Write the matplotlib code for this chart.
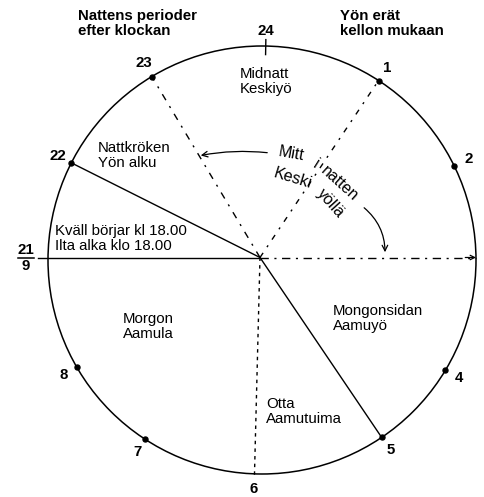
import numpy as np
import matplotlib
matplotlib.use("Agg")
import matplotlib.pyplot as plt
from matplotlib.patches import Circle, FancyArrowPatch

plt.rcParams['font.family'] = ['Liberation Sans', 'DejaVu Sans']

# ---- data -------------------------------------------------------------
hour_labels = ["24", "1", "2", "3", "4", "5", "6", "7", "8", "21/9", "22", "23"]
hour_angles = [1, 33, 64, 90, 121, 146, 182, 213, 240, 270, 297, 329]   # degrees clockwise from top
dot_hours = ["1", "2", "4", "5", "7", "8", "22", "23"]

# radial lines from the hub: (hour, kind)
radial_lines = [("22", "solid"), ("5", "solid"), ("21/9", "solid"),
                ("23", "dashdot"), ("1", "dashed_dot"), ("3", "dash_arrow"),
                ("6", "dashed")]

title_left = "Nattens perioder\nefter klockan"
title_right = "Yön erät\nkellon mukaan"
period_texts = ["Midnatt\nKeskiyö", "Nattkröken\nYön alku",
                "Kväll börjar kl 18.00\nIlta alka klo 18.00",
                "Morgon\nAamula", "Mongonsidan\nAamuyö", "Otta\nAamutuima"]
curved_words = ["Mitt", "i", "natten", "Keski", "yöllä"]

# ---- layout -----------------------------------------------------------
W, H = 485, 497
CX, CY, R = 262, 260, 214
HX, HY = 260, 257.5
FS = 10.8

fig = plt.figure(figsize=(W / 100, H / 100), dpi=100)
ax = fig.add_axes([0, 0, 1, 1])
ax.set_xlim(0, W)
ax.set_ylim(H, 0)
ax.set_aspect('equal')
ax.axis('off')

ang = dict(zip(hour_labels, hour_angles))


def pt(a, r=1.0):
    t = np.deg2rad(a)
    return CX + R * r * np.sin(t), CY - R * r * np.cos(t)


def ray_end(a, r=1.0):
    """point where a ray from the hub at angle a meets a circle of radius r*R"""
    t = np.deg2rad(a)
    dx, dy = np.sin(t), -np.cos(t)
    ox, oy = HX - CX, HY - CY
    b = ox * dx + oy * dy
    c = ox * ox + oy * oy - (R * r) ** 2
    s = -b + np.sqrt(b * b - c)
    return HX + s * dx, HY + s * dy


ax.add_patch(Circle((CX, CY), R, fill=False, lw=1.1, color='black'))

# radial lines
styles = {
    "solid": dict(ls='-'),
    "dashdot": dict(dashes=(5, 5, 1.5, 5)),
    "dashed_dot": dict(dashes=(4, 5, 1.5, 5)),
    "dash_arrow": dict(dashes=(6, 4, 1.5, 4)),
    "dashed": dict(dashes=(2.5, 3)),
}
for h, kind in radial_lines:
    if h in ("3", "21/9"):
        r_end = 1.047 if h == "21/9" else 1.0
        x1, y1 = ray_end(ang[h], r_end)
    else:
        r_end = 1.02 if h == "6" else 1.0
        x1, y1 = pt(ang[h], r_end)
    ax.plot([HX, x1], [HY, y1], color='black', lw=1.0, **styles[kind])
    if kind == "dash_arrow":
        x0, y0 = ray_end(ang[h], 0.95)
        ax.annotate("", xy=(x1, y1), xytext=(x0, y0),
                    arrowprops=dict(arrowstyle='->', lw=0.9, color='black',
                                    mutation_scale=8, shrinkA=0, shrinkB=0))

# dots on the circle
for h in dot_hours:
    x, y = pt(ang[h])
    ax.plot(x, y, 'o', color='black', ms=3.6)

# tick at 24
x0, y0 = pt(ang["24"], 0.96)
x1, y1 = pt(ang["24"], 1.03)
ax.plot([x0, x1], [y0, y1], color='black', lw=1.0)

# hour labels
for h in hour_labels:
    if h == "3":
        continue
    if h == "21/9":
        x, y = ray_end(ang[h], 1.103)
        ax.text(x, y - 1, "21", ha='center', va='bottom', fontsize=FS,
                fontweight='bold')
        ax.plot([x - 8, x + 8], [y, y], color='black', lw=1.1)
        ax.text(x, y + 1, "9", ha='center', va='top', fontsize=FS,
                fontweight='bold')
        continue
    x, y = pt(ang[h], 1.072)
    ax.text(x, y, h, ha='center', va='center', fontsize=FS, fontweight='bold')

# titles
ax.text(78, 9, title_left, ha='left', va='top', fontsize=FS,
        fontweight='bold', linespacing=1.05)
ax.text(340, 9, title_right, ha='left', va='top', fontsize=FS,
        fontweight='bold', linespacing=1.05)

# period texts
text_pos = [(240, 67), (98, 141), (55, 224), (123, 312), (333, 304), (266, 397)]
for s, (x, y) in zip(period_texts, text_pos):
    ax.text(x, y, s, ha='left', va='top', fontsize=FS, linespacing=1.05)

# curved "Mitt i natten / Keski yöllä"
word_pos = [(291, 154, -10), (316, 164, -32), (339, 184, -42),
            (293, 178, -17), (331, 203, -48)]
for w, (x, y, rot) in zip(curved_words, word_pos):
    ax.text(x, y, w, ha='center', va='center', fontsize=FS + 0.7,
            rotation=rot, rotation_mode='anchor')

# curved arrows
a1 = FancyArrowPatch((270, 153), (198, 156), connectionstyle="arc3,rad=0.08",
                     arrowstyle='->', mutation_scale=10, lw=0.9, color='black')
a2 = FancyArrowPatch((362, 206), (385, 255), connectionstyle="arc3,rad=-0.25",
                     arrowstyle='->', mutation_scale=10, lw=0.9, color='black')
ax.add_patch(a1)
ax.add_patch(a2)

fig.savefig("out.png", dpi=100)
